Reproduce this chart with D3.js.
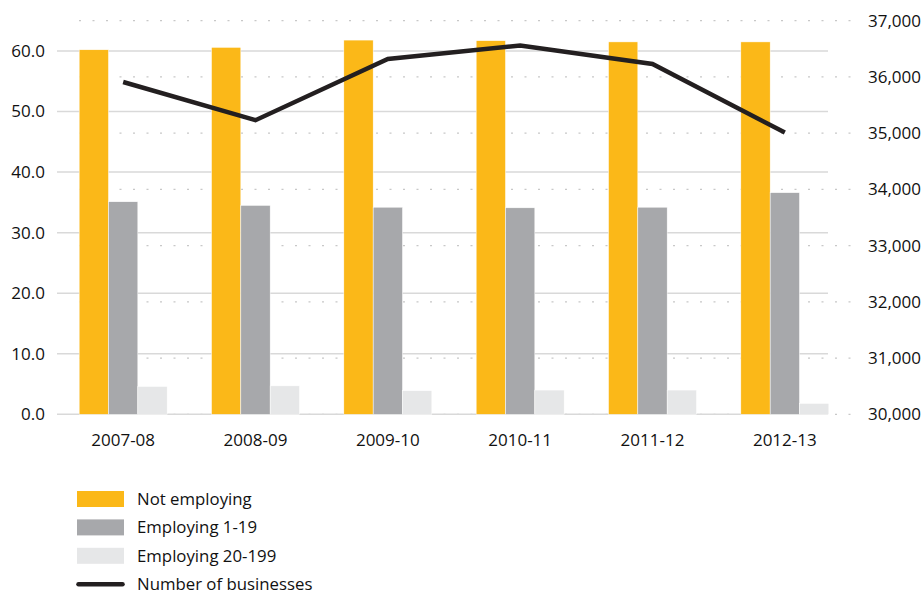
<!DOCTYPE html>
<html>
<head>
<meta charset="utf-8">
<script src="https://cdn.jsdelivr.net/npm/d3@7"></script>
<style>
  body { margin: 0; background: #fff; }
  text { font-family: "Open Sans", sans-serif; fill: #111; }
</style>
</head>
<body>
<svg id="chart" width="924" height="595"></svg>
<script>
const years = ['2007-08', '2008-09', '2009-10', '2010-11', '2011-12', '2012-13']
const seriesNames = ['Not employing', 'Employing 1-19', 'Employing 20-199']
const notEmploying = [60.2, 60.6, 61.8, 61.7, 61.5, 61.5]
const employing1to19 = [35.1, 34.5, 34.2, 34.1, 34.2, 36.6]
const employing20to199 = [4.6, 4.7, 3.9, 4.0, 4.0, 1.8]
const businesses = [35910, 35230, 36320, 36560, 36230, 35010]
const leftTicks = [0, 10, 20, 30, 40, 50, 60]
const rightTicks = [30000, 31000, 32000, 33000, 34000, 35000, 36000, 37000]

const colors = ['#fbb818', '#a7a8ab', '#e6e7e8']
const lineColor = '#231f20'

const svg = d3.select('#chart')

// scales
const x0 = d3.scaleBand().domain(years).range([57, 851])
  .paddingInner(0.335).paddingOuter(0.1675)
const x1 = d3.scaleBand().domain(seriesNames).range([0, x0.bandwidth()])
const yLeft = d3.scaleLinear().domain([0, 65]).range([414.3, 20.7])
const yRight = d3.scaleLinear().domain([30000, 37000]).range([414.3, 20.7])

// dotted gridlines (right axis)
svg.append('g').selectAll('line')
  .data(rightTicks)
  .enter().append('line')
  .attr('x1', 79).attr('x2', 853)
  .attr('y1', d => yRight(d)).attr('y2', d => yRight(d))
  .attr('stroke', '#c8c8c8')
  .attr('stroke-width', 1.3)
  .attr('stroke-dasharray', '2,11.5')

// solid gridlines (left axis)
svg.append('g').selectAll('line')
  .data(leftTicks)
  .enter().append('line')
  .attr('x1', 57).attr('x2', 828)
  .attr('y1', d => yLeft(d)).attr('y2', d => yLeft(d))
  .attr('stroke', '#d9d9d9')
  .attr('stroke-width', 1.5)

// bars
const table = years.map((y, i) => ({
  year: y,
  values: [notEmploying[i], employing1to19[i], employing20to199[i]]
}))

const groups = svg.append('g').selectAll('g')
  .data(table)
  .enter().append('g')
  .attr('transform', d => `translate(${x0(d.year)},0)`)

groups.selectAll('rect')
  .data(d => d.values.map((v, k) => ({ key: seriesNames[k], value: v, k: k })))
  .enter().append('rect')
  .attr('x', d => x1(d.key))
  .attr('width', x1.bandwidth())
  .attr('y', d => yLeft(d.value))
  .attr('height', d => yLeft(0) - yLeft(d.value))
  .attr('fill', d => colors[d.k])
  .attr('stroke', '#fff')
  .attr('stroke-width', 0.5)

// number of businesses line
const line = d3.line()
  .x((d, i) => x0(years[i]) + x0.bandwidth() / 2)
  .y(d => yRight(d))

svg.append('path')
  .datum(businesses)
  .attr('d', line)
  .attr('fill', 'none')
  .attr('stroke', lineColor)
  .attr('stroke-width', 4.5)
  .attr('stroke-linejoin', 'miter')

// left axis labels
svg.append('g').selectAll('text')
  .data(leftTicks)
  .enter().append('text')
  .attr('x', 45)
  .attr('y', d => yLeft(d))
  .attr('dy', '0.35em')
  .attr('text-anchor', 'end')
  .attr('font-size', '17px')
  .text(d => d3.format('.1f')(d))

// right axis labels
svg.append('g').selectAll('text')
  .data(rightTicks)
  .enter().append('text')
  .attr('x', 921)
  .attr('y', d => yRight(d))
  .attr('dy', '0.35em')
  .attr('text-anchor', 'end')
  .attr('font-size', '17px')
  .text(d => d3.format(',')(d))

// x labels
svg.append('g').selectAll('text')
  .data(years)
  .enter().append('text')
  .attr('x', d => x0(d) + x0.bandwidth() / 2)
  .attr('y', 445.5)
  .attr('text-anchor', 'middle')
  .attr('font-size', '17px')
  .text(d => d)

// legend
const legendItems = seriesNames.concat(['Number of businesses'])
const legend = svg.append('g').attr('transform', 'translate(77,499)')
legendItems.forEach((name, i) => {
  const yy = i * 28.4
  if (i < 3) {
    legend.append('rect')
      .attr('x', 0).attr('y', yy - 8)
      .attr('width', 47).attr('height', 16)
      .attr('fill', colors[i])
  } else {
    legend.append('line')
      .attr('x1', 1.5).attr('x2', 45.5)
      .attr('y1', yy).attr('y2', yy)
      .attr('stroke', lineColor)
      .attr('stroke-width', 4.5)
      .attr('stroke-linecap', 'round')
  }
  legend.append('text')
    .attr('x', 60)
    .attr('y', yy)
    .attr('dy', '0.35em')
    .attr('font-size', '16.8px')
    .text(name)
})
</script>
</body>
</html>
